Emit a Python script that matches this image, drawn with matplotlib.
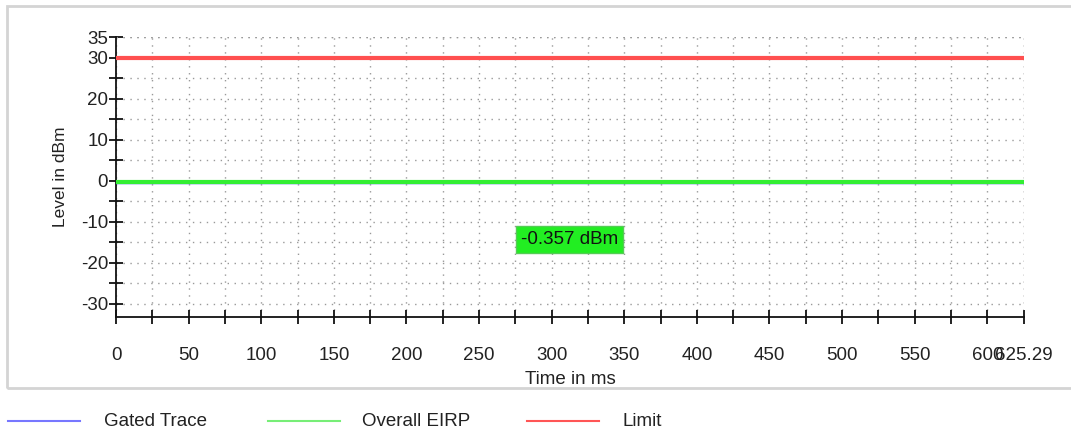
import matplotlib
matplotlib.use("Agg")
import matplotlib.pyplot as plt
from matplotlib.patches import Rectangle
from matplotlib.lines import Line2D
import numpy as np

plt.rcParams['font.family'] = ['Liberation Sans', 'DejaVu Sans']
plt.rcParams['axes.unicode_minus'] = False

# Measurement data
t_end = 625.29
time_ms = [0.0, t_end]
gated_trace = [-0.357, -0.357]
overall_eirp = [-0.357, -0.357]
limit = [30.0, 30.0]
eirp_label = "-0.357 dBm"
label_pos = (312.5, -14.4)

x_ticks = [0, 50, 100, 150, 200, 250, 300, 350, 400, 450, 500, 550, 600, t_end]
x_tick_labels = ["0", "50", "100", "150", "200", "250", "300", "350", "400",
                 "450", "500", "550", "600", "625.29"]
y_ticks = [-30, -20, -10, 0, 10, 20, 30, 35]

FS = 13.5
fig = plt.figure(figsize=(10.71, 4.32), dpi=100)
W, H = 1071, 432

# Outer panel frame
fig.patches.append(Rectangle((7 / W, 1 - 388 / H), 1.1, (388 - 6) / H,
                             transform=fig.transFigure, fill=False,
                             edgecolor='#d4d4d4', linewidth=2.0, zorder=0))

ax = fig.add_axes([116 / W, 1 - 317 / H, (1024 - 116) / W, (317 - 37) / H])
ax.set_xlim(0, t_end)
ax.set_ylim(-33.2, 35)

for s in ['top', 'right']:
    ax.spines[s].set_visible(False)
for s in ['left', 'bottom']:
    ax.spines[s].set_linewidth(1.3)
    ax.spines[s].set_color('#111111')

ax.set_xticks(x_ticks)
ax.set_xticklabels(x_tick_labels)
ax.set_xticks(np.arange(25, 625, 50), minor=True)
ax.set_yticks(y_ticks)
ax.set_yticks([-25, -15, -5, 5, 15, 25], minor=True)
ax.tick_params(axis='both', which='both', direction='inout', length=9.5,
               width=1.3, color='#111111', labelsize=FS, labelcolor='#222222')
ax.tick_params(axis='x', which='both', pad=17)
ax.tick_params(axis='y', which='both', pad=1)

# Dotted grid on every tick
ax.grid(True, which='both', linestyle=(0, (1, 4)), color='#999999', linewidth=1.0)
ax.axvline(t_end, linestyle=(0, (1, 4)), color='#999999', linewidth=1.0)
ax.axhline(35, linestyle=(0, (1, 4)), color='#999999', linewidth=1.0)
ax.set_axisbelow(True)

ax.plot(time_ms, gated_trace, color='#5555ff', linewidth=2.5, zorder=3)
ax.plot(time_ms, overall_eirp, color='#33ee33', linewidth=3, zorder=4)
ax.plot(time_ms, limit, color='#ff5050', linewidth=3, zorder=4)

ax.text(label_pos[0], label_pos[1], eirp_label, ha='center', va='center',
        fontsize=FS, color='#111111', zorder=5,
        bbox=dict(boxstyle='square,pad=0.26', facecolor='#22ee22',
                  edgecolor='#55cc55', linewidth=1))

ax.set_xlabel("Time in ms", fontsize=FS, color='#222222', labelpad=5)
ax.set_ylabel("Level in dBm", fontsize=12.5, color='#222222', labelpad=9)

# Legend below the panel
legend_items = [("Gated Trace", '#7777ff', 8, 104),
                ("Overall EIRP", '#77ee77', 268, 362),
                ("Limit", '#ff5555', 527, 622)]
y_leg = 1 - 421 / H
for name, col, x0, xt in legend_items:
    fig.add_artist(Line2D([x0 / W, (x0 + 72) / W], [y_leg, y_leg],
                          transform=fig.transFigure, color=col, linewidth=1.5))
    fig.text(xt / W, y_leg, name, ha='left', va='center', fontsize=FS,
             color='#222222')

fig.savefig("out.png", dpi=100)
